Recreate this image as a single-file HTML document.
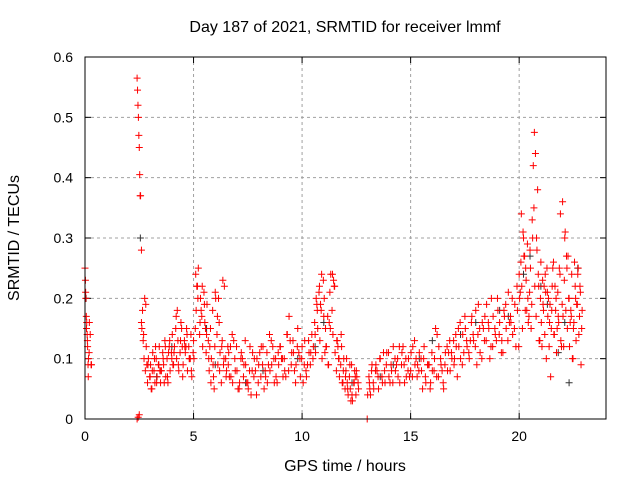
<!DOCTYPE html>
<html><head><meta charset="utf-8"><style>
body{margin:0;background:#fff}
svg{display:block;font-family:"Liberation Sans",sans-serif}
</style></head><body>
<svg id="c" width="640" height="480" viewBox="0 0 640 480">
<text x="345" y="32" text-anchor="middle" font-size="16">Day 187 of 2021, SRMTID for receiver lmmf</text>
<text x="345" y="471" text-anchor="middle" font-size="16">GPS time / hours</text>
<text transform="translate(19,238) rotate(-90)" text-anchor="middle" font-size="16">SRMTID / TECUs</text>
<g id="grid"></g><g id="ticks"></g><g id="marks"></g>
<rect x="85" y="57" width="521" height="362" fill="none" stroke="#000" stroke-width="1"/>
</svg>
<script>
const xTicks=[0,5,10,15,20];
const yTicks=[0,0.1,0.2,0.3,0.4,0.5,0.6];
const yTickLabels=["0","0.1","0.2","0.3","0.4","0.5","0.6"];
const redT=[0,0.02,0.04,0.06,0.08,0.1,0.12,0.14,0.16,0.2,0.24,0.28,0.3,
2.4,2.42,2.44,2.46,2.48,2.5,2.52,2.54,2.56,2.6,2.4,2.45,2.5,
2.6,2.7,2.8,2.9,3.0,3.1,3.2,3.3,3.4,3.5,3.6,3.7,3.8,3.9,4.0,4.1,4.2,4.3,4.4,4.5,4.6,4.7,4.8,4.9,
2.65,2.75,2.85,3.05,3.25,3.45,3.65,3.85,4.05,4.25,4.45,4.65,4.85,
5.0,5.1,5.2,5.3,5.4,5.5,5.6,5.7,5.8,5.9,6.0,6.1,6.2,6.3,6.4,6.5,5.15,5.35,5.55,5.75,5.95,6.15,6.35,
6.6,6.7,6.8,6.9,7.0,7.1,7.2,7.3,7.4,7.5,7.6,7.7,7.8,7.9,8.0,8.1,8.2,8.3,8.4,8.5,8.6,8.7,8.8,8.9,9.0,9.1,9.2,9.3,9.4,9.5,9.6,9.7,9.8,9.9,10.0,10.1,10.2,10.3,10.4,
6.65,6.85,7.05,7.25,7.45,7.65,7.85,8.05,8.25,8.45,8.65,8.85,9.05,9.25,9.45,9.65,9.85,10.05,10.25,
10.5,10.6,10.7,10.8,10.9,11.0,11.1,11.2,11.3,11.4,11.5,11.6,11.7,11.8,11.9,10.65,10.85,11.05,11.25,11.45,11.65,11.85,
12.0,12.1,12.2,12.3,12.4,12.5,12.6,12.05,12.25,12.45,
13.0,13.1,13.2,13.3,13.4,13.5,13.6,13.7,13.8,13.9,14.0,14.1,14.2,14.3,14.4,14.5,14.6,14.7,14.8,14.9,15.0,15.1,15.2,15.3,15.4,15.5,15.6,15.7,15.8,15.9,16.0,16.1,16.2,16.3,16.4,16.5,16.6,16.7,16.8,16.9,
13.15,13.45,13.75,14.05,14.35,14.65,14.95,15.25,15.55,15.85,16.15,16.45,16.75,
17.0,17.1,17.2,17.3,17.4,17.5,17.6,17.7,17.8,17.9,18.0,18.1,18.2,18.3,18.4,18.5,18.6,18.7,18.8,18.9,19.0,19.1,19.2,19.3,19.4,19.5,19.6,19.7,19.8,19.9,
17.15,17.45,17.75,18.05,18.35,18.65,18.95,19.25,19.55,19.85,
20.0,20.1,20.2,20.3,20.4,20.5,20.6,20.65,20.7,20.75,20.8,20.9,21.0,21.1,21.2,21.3,21.4,21.5,21.6,21.7,21.8,21.9,22.0,22.1,22.2,22.3,22.4,22.5,22.6,22.7,22.8,22.9,
20.05,20.25,20.45,20.55,20.85,21.05,21.25,21.45,21.65,21.85,22.05,22.25,22.45,22.65,22.85,
20.15,20.35,20.95,21.15,21.35,21.55,21.75,21.95,22.15,22.35,22.55,22.75];
const redV=[0.25,0.23,0.2,0.17,0.16,0.14,0.12,0.09,0.1,0.16,0.14,0.09,0.09,
0.565,0.545,0.52,0.5,0.47,0.45,0.405,0.37,0.37,0.28,0.0,0.003,0.007,
0.16,0.14,0.19,0.09,0.07,0.08,0.1,0.06,0.09,0.08,0.1,0.12,0.07,0.13,0.1,0.11,0.17,0.09,0.13,0.07,0.12,0.14,0.1,0.08,
0.18,0.2,0.09,0.05,0.12,0.08,0.06,0.11,0.09,0.18,0.15,0.12,0.1,
0.13,0.24,0.2,0.16,0.22,0.19,0.14,0.1,0.06,0.09,0.21,0.17,0.08,0.12,0.1,0.07,0.22,0.18,0.15,0.12,0.05,0.2,0.23,
0.09,0.12,0.06,0.1,0.08,0.05,0.11,0.07,0.09,0.06,0.12,0.08,0.1,0.04,0.09,0.07,0.12,0.08,0.06,0.14,0.09,0.1,0.07,0.11,0.12,0.1,0.08,0.14,0.17,0.09,0.11,0.06,0.15,0.1,0.12,0.09,0.07,0.13,0.11,
0.07,0.13,0.05,0.1,0.06,0.04,0.08,0.11,0.05,0.09,0.12,0.06,0.1,0.07,0.13,0.08,0.11,0.06,0.09,
0.1,0.14,0.18,0.22,0.24,0.17,0.12,0.09,0.15,0.24,0.22,0.13,0.1,0.14,0.08,0.2,0.19,0.11,0.16,0.23,0.12,0.06,
0.07,0.05,0.09,0.04,0.06,0.08,0.05,0.1,0.03,0.07,
0.0,0.06,0.08,0.05,0.09,0.07,0.1,0.06,0.08,0.11,0.07,0.09,0.12,0.08,0.1,0.06,0.11,0.09,0.07,0.1,0.08,0.12,0.09,0.07,0.11,0.08,0.1,0.06,0.09,0.05,0.08,0.1,0.07,0.12,0.09,0.06,0.11,0.08,0.13,0.1,
0.04,0.08,0.11,0.06,0.09,0.12,0.07,0.1,0.05,0.09,0.15,0.08,0.11,
0.09,0.12,0.15,0.1,0.14,0.17,0.12,0.1,0.16,0.13,0.18,0.14,0.11,0.16,0.13,0.19,0.15,0.12,0.17,0.14,0.2,0.16,0.13,0.18,0.15,0.21,0.17,0.14,0.19,0.22,
0.07,0.11,0.13,0.09,0.15,0.1,0.13,0.11,0.16,0.12,
0.24,0.34,0.3,0.25,0.2,0.28,0.33,0.42,0.475,0.44,0.3,0.22,0.26,0.19,0.24,0.21,0.16,0.18,0.14,0.2,0.17,0.34,0.36,0.3,0.25,0.2,0.17,0.15,0.2,0.24,0.22,0.18,
0.21,0.27,0.17,0.15,0.38,0.12,0.1,0.07,0.22,0.25,0.12,0.27,0.1,0.19,0.09,
0.15,0.18,0.13,0.22,0.2,0.25,0.15,0.12,0.18,0.16,0.26,0.14];
const red2T=[0.03,0.07,0.11,0.15,0.19,
2.62,2.68,2.72,2.78,2.82,2.88,2.92,2.98,3.02,3.08,3.12,3.18,3.22,3.28,3.32,3.38,3.42,3.48,3.52,3.58,3.62,3.68,3.72,3.78,3.82,3.88,3.92,3.98,4.02,4.08,4.12,4.18,4.22,4.28,4.32,4.38,4.42,4.48,4.52,4.58,4.62,4.68,4.72,4.78,4.82,4.88,4.92,4.98,
5.02,5.08,5.12,5.18,5.22,5.28,5.32,5.38,5.42,5.48,5.52,5.58,5.62,5.68,5.72,5.78,5.82,5.88,5.92,5.98,6.02,6.08,6.12,6.18,6.22,6.28,6.32,6.38,6.42,6.48,6.52,6.58,
6.62,6.72,6.78,6.92,6.98,7.12,7.18,7.32,7.38,7.52,7.58,7.72,7.78,7.92,7.98,8.12,8.18,8.32,8.38,8.52,8.58,8.72,8.78,8.92,8.98,9.12,9.18,9.32,9.38,9.52,9.58,9.72,9.78,9.92,9.98,10.12,10.18,10.32,10.38,10.45,
10.52,10.58,10.62,10.68,10.72,10.78,10.82,10.88,10.92,10.98,11.02,11.08,11.12,11.18,11.22,11.28,11.32,11.38,11.42,11.48,11.52,11.58,11.62,11.68,11.72,11.78,11.82,11.88,11.92,11.98,
12.02,12.08,12.12,12.18,12.22,12.28,12.32,12.38,12.42,12.48,12.52,12.58,
13.02,13.08,13.12,13.22,13.28,13.38,13.52,13.58,13.68,13.82,13.88,13.98,14.12,14.18,14.28,14.42,14.48,14.58,14.72,14.78,14.88,15.02,15.08,15.18,15.32,15.38,15.48,15.62,15.68,15.78,15.92,15.98,16.08,16.22,16.28,16.38,16.52,16.58,16.68,16.82,16.88,16.98,
17.02,17.08,17.22,17.28,17.38,17.52,17.58,17.68,17.82,17.88,17.98,18.12,18.18,18.28,18.42,18.48,18.58,18.72,18.78,18.88,19.02,19.08,19.18,19.32,19.38,19.48,19.62,19.68,19.78,19.92,19.98,
20.02,20.08,20.12,20.18,20.22,20.28,20.32,20.38,20.42,20.48,20.52,20.58,20.62,20.68,20.72,20.78,20.82,20.88,20.92,20.98,21.02,21.08,21.12,21.18,21.22,21.28,21.32,21.38,21.42,21.48,21.52,21.58,21.62,21.68,21.72,21.78,21.82,21.88,21.92,21.98,22.02,22.08,22.12,22.18,22.22,22.28,22.32,22.38,22.42,22.48,22.52,22.58,22.62,22.68,22.72,22.78,22.82,22.88];
const red2V=[0.21,0.15,0.13,0.07,0.11,
0.15,0.13,0.1,0.08,0.12,0.06,0.1,0.07,0.09,0.05,0.11,0.08,0.06,0.1,0.07,0.09,0.12,0.06,0.08,0.11,0.09,0.13,0.07,0.1,0.06,0.12,0.08,0.11,0.14,0.09,0.12,0.15,0.1,0.13,0.08,0.11,0.16,0.12,0.09,0.13,0.11,0.15,0.08,0.12,0.1,0.14,0.07,0.11,
0.1,0.15,0.18,0.22,0.25,0.14,0.2,0.17,0.12,0.21,0.16,0.11,0.19,0.13,0.08,0.15,0.1,0.18,0.07,0.12,0.2,0.14,0.09,0.16,0.11,0.06,0.13,0.09,0.22,0.1,0.08,0.12,
0.11,0.07,0.14,0.08,0.12,0.06,0.1,0.09,0.13,0.05,0.08,0.11,0.07,0.1,0.06,0.12,0.09,0.07,0.11,0.08,0.13,0.06,0.1,0.09,0.12,0.07,0.1,0.14,0.08,0.11,0.13,0.09,0.12,0.07,0.1,0.13,0.08,0.11,0.09,0.14,
0.12,0.16,0.11,0.19,0.15,0.21,0.13,0.18,0.1,0.23,0.2,0.15,0.12,0.17,0.09,0.21,0.24,0.18,0.14,0.22,0.11,0.08,0.13,0.1,0.07,0.09,0.12,0.06,0.1,0.05,
0.08,0.06,0.04,0.07,0.05,0.09,0.03,0.06,0.08,0.04,0.07,0.06,
0.04,0.07,0.05,0.09,0.06,0.08,0.05,0.1,0.07,0.06,0.09,0.11,0.08,0.06,0.1,0.07,0.12,0.09,0.06,0.1,0.08,0.11,0.07,0.13,0.09,0.08,0.1,0.12,0.07,0.09,0.06,0.11,0.08,0.14,0.07,0.1,0.05,0.09,0.12,0.08,0.11,0.13,
0.1,0.14,0.12,0.16,0.09,0.15,0.13,0.11,0.17,0.14,0.12,0.19,0.15,0.1,0.17,0.13,0.16,0.2,0.12,0.15,0.18,0.14,0.11,0.17,0.19,0.13,0.16,0.2,0.15,0.18,0.12,
0.2,0.26,0.22,0.31,0.27,0.18,0.23,0.29,0.16,0.21,0.25,0.19,0.3,0.35,0.22,0.17,0.28,0.24,0.13,0.2,0.16,0.23,0.18,0.14,0.21,0.25,0.17,0.12,0.19,0.15,0.22,0.26,0.14,0.18,0.11,0.21,0.16,0.24,0.13,0.19,0.17,0.23,0.31,0.27,0.15,0.2,0.12,0.18,0.24,0.1,0.16,0.22,0.13,0.19,0.25,0.17,0.21,0.15];
const blackT=[0.05,2.55,4.0,6.0,8.2,9.8,11.0,12.3,14.2,16.0,18.0,19.5,20.5,21.0,21.8,22.3,22.7,3.3,5.6,7.4,10.6,13.6,15.4,17.3,19.1,20.2,21.3,22.1];
const blackV=[0.2,0.3,0.12,0.09,0.08,0.1,0.16,0.06,0.09,0.13,0.16,0.17,0.27,0.22,0.11,0.06,0.25,0.07,0.15,0.06,0.12,0.07,0.1,0.14,0.18,0.24,0.19,0.16];
const X0=85,X1=606,Y0=419,Y1=57;
const xs=t=>X0+t*(X1-X0)/24;
const ys=v=>Y0-v*(Y0-Y1)/0.6;
const NS="http://www.w3.org/2000/svg";
function mk(tag,attrs,parent){const e=document.createElementNS(NS,tag);for(const k in attrs)e.setAttribute(k,attrs[k]);parent.appendChild(e);return e;}
const grid=document.getElementById('grid'),ticks=document.getElementById('ticks'),marks=document.getElementById('marks');
xTicks.forEach(t=>{const x=xs(t);
 if(t>0){const g=mk('line',{x1:x,x2:x,y1:Y0,y2:Y1,stroke:'#a0a0a0','stroke-dasharray':'3,3'},grid);
 
 }
 const l=mk('text',{x:x,y:Y0+22,'text-anchor':'middle','font-size':14},ticks);l.textContent=t;
 
 
 mk('line',{x1:x,x2:x,y1:Y0,y2:Y0-6,stroke:'#000'},ticks);mk('line',{x1:x,x2:x,y1:Y1,y2:Y1+6,stroke:'#000'},ticks);});
yTicks.forEach((v,i)=>{const y=ys(v);
 if(v>0&&v<0.6){const g=mk('line',{x1:X0,x2:X1,y1:y,y2:y,stroke:'#a0a0a0','stroke-dasharray':'3,3'},grid);
 
 }
 const l=mk('text',{x:X0-12,y:y+5,'text-anchor':'end','font-size':14},ticks);l.textContent=yTickLabels[i];
 
 
 mk('line',{x1:X0,x2:X0+6,y1:y,y2:y,stroke:'#000'},ticks);mk('line',{x1:X1,x2:X1-6,y1:y,y2:y,stroke:'#000'},ticks);});
function plus(t,v,col,name){const x=xs(t),y=ys(v);
 const p=mk('path',{d:`M${x-3.5},${y}h7M${x},${y-3.5}v7`,stroke:col,'stroke-width':1,fill:'none'},marks);
 
 }
blackT.forEach((t,i)=>plus(t,blackV[i],'#333','black-point'));
redT.forEach((t,i)=>plus(t,redV[i],'#ff0000','red-point'));
red2T.forEach((t,i)=>plus(t,red2V[i],'#ff0000','red-point'));
</script>
</body></html>
